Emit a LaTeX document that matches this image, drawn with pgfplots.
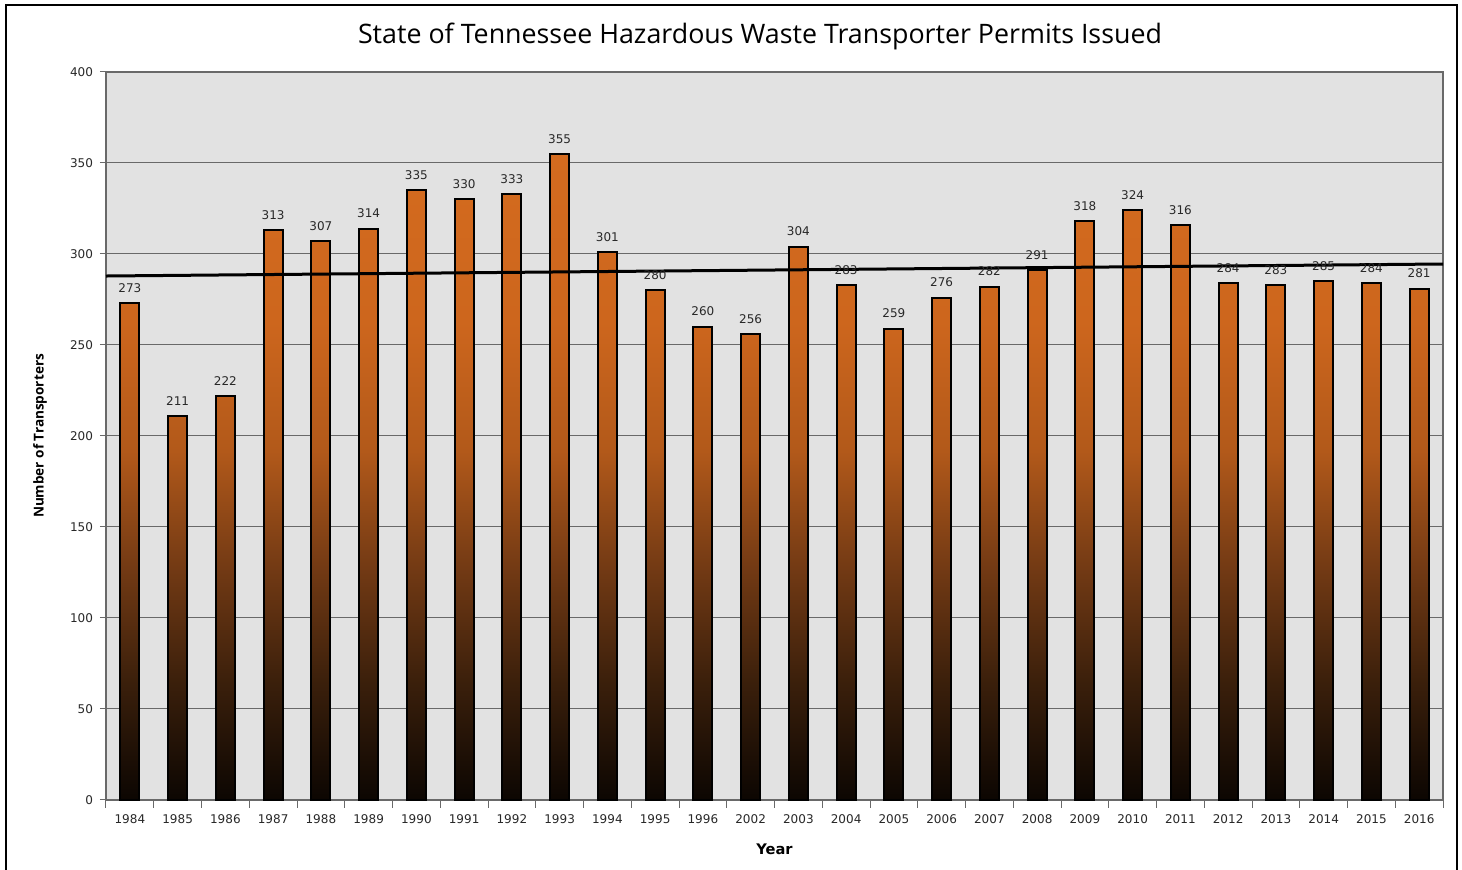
\documentclass[border=0pt]{standalone}
\usepackage{pgfplots}
\pgfplotsset{compat=1.18}
\usepackage{fontspec}
\setmainfont{DejaVu Sans}
\newfontfamily\titlefont{Open Sans}
\definecolor{plotbg}{RGB}{226,226,226}
\definecolor{gridc}{RGB}{105,105,105}
\definecolor{txt}{RGB}{40,40,40}
\definecolor{o0}{RGB}{12,6,2}
\definecolor{o1}{RGB}{58,31,11}
\definecolor{o2}{RGB}{115,58,20}
\definecolor{o3}{RGB}{178,89,26}
\definecolor{o4}{RGB}{205,102,29}
\definecolor{o5}{RGB}{212,107,31}
\pgfdeclareverticalshading{barshade}{100bp}{color(0bp)=(o0); color(25bp)=(o0); color(34bp)=(o1); color(43bp)=(o2); color(52bp)=(o3); color(62bp)=(o4); color(75bp)=(o5); color(100bp)=(o5)}
\begin{document}
\begin{tikzpicture}
\useasboundingbox (-53pt,-35pt) rectangle (678pt,400pt);
\fill[white] (-53pt,-35pt) rectangle (678pt,400pt);
\draw[black, line width=1pt] (-49.75pt,-36pt) -- (-49.75pt,397.5pt) -- (675.5pt,397.5pt) -- (675.5pt,-36pt);
\begin{axis}[
  scale only axis,
  width=668.5pt, height=364pt,
  xmin=-0.5, xmax=27.5,
  ymin=0, ymax=400,
  ytick={0,50,...,400},
  xtick={0,...,27},
  xticklabels={1984,1985,1986,1987,1988,1989,1990,1991,1992,1993,1994,1995,1996,2002,2003,2004,2005,2006,2007,2008,2009,2010,2011,2012,2013,2014,2015,2016},
  major x tick style={draw=none},
  minor xtick={-0.5,0.5,...,27.5},
  minor tick length=4pt,
  major tick length=3pt,
  tick align=outside,
  xtick pos=bottom, ytick pos=left,
  tick style={gridc, line width=0.5pt},
  ymajorgrids,
  grid style={gridc, line width=0.5pt},
  axis background/.style={fill=plotbg},
  axis line style={gridc, line width=0.6pt},
  /pgf/number format/assume math mode=true,
  tick label style={font=\fontsize{6}{7}\selectfont, text=txt},
  xticklabel style={yshift=-1pt},
  xlabel={Year},
  xlabel style={at={(0.5,0)}, anchor=center, yshift=-24.5pt, font=\fontsize{7.3}{8}\selectfont\bfseries, text=black},
  ylabel={Number of Transporters},
  ylabel style={at={(0,0.5)}, anchor=center, yshift=33pt, font=\titlefont\fontsize{6.8}{8}\selectfont\bfseries, text=black},
  clip=false,
]
\addplot[ybar, bar width=9.6pt, draw=black, line width=1pt, shade, shading=barshade,
  nodes near coords,
  every node near coord/.append style={font=\fontsize{6}{7}\selectfont, text=txt, yshift=1.5pt}]
coordinates {
(0,273) (1,211) (2,222) (3,313) (4,307) (5,314) (6,335) (7,330) (8,333) (9,355)
(10,301) (11,280) (12,260) (13,256) (14,304) (15,283) (16,259) (17,276) (18,282) (19,291)
(20,318) (21,324) (22,316) (23,284) (24,283) (25,285) (26,284) (27,281)
};
\addplot[black, line width=1.5pt] coordinates {(-0.5,287.9) (27.5,294.5)};
\end{axis}
\node[font=\titlefont\fontsize{13.4}{16}\selectfont, text=black] at (327pt,382pt) {State of Tennessee Hazardous Waste Transporter Permits Issued};
\end{tikzpicture}
\end{document}
